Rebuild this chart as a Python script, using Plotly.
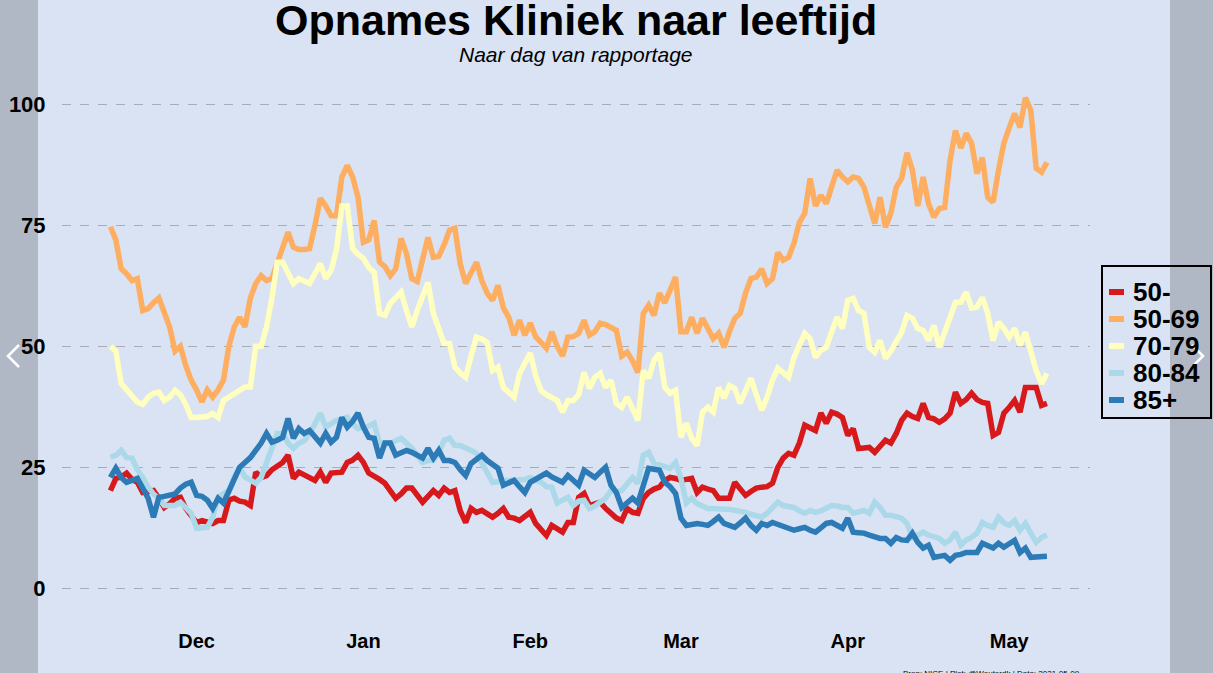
import pandas as pd
import plotly.graph_objects as go

# Daily clinic admissions per age group, 15 Nov 2020 – 8 May 2021
dates = pd.date_range("2020-11-15", periods=175, freq="D")

age_50_min = [
    20.2, 22.7, 23, 23.8, 22.5, 21.9, 19.8, 20, 20.2, 18.6,
    16.7, 17.5, 18.6, 18.8, 16.5, 15, 13.6, 14, 13.8, 13.4,
    14, 14, 18.2, 18.6, 18, 17.8, 17.1, 24, 22.9, 23.3,
    24.5, 25.4, 26, 27.5, 22.7, 24, 23.5, 22.9, 22.3, 24,
    21.9, 23.8, 24, 24, 26, 26.5, 27.5, 26, 23.8, 23.3,
    22.5, 21.7, 20, 18.6, 19.5, 20.7, 20.7, 19, 17.8, 19,
    20.2, 19.2, 20.7, 19.8, 20.2, 16, 13.6, 16.5, 15.7, 16.1,
    15.5, 14.7, 15.5, 16.5, 14.7, 14.5, 14, 15, 15.7, 13.4,
    12, 10.9, 13, 12.3, 11.6, 13.6, 13.6, 18.8, 19.6, 17.1,
    17.5, 17.8, 16.5, 15.5, 14.5, 14, 16.5, 15.7, 15.5, 18.6,
    19.8, 20.5, 20.9, 22.3, 22.9, 22.7, 22.3, 22.5, 22.7, 19.8,
    20.9, 20.5, 20.2, 18.6, 18.6, 18.6, 21.9, 20.5, 19.2, 20,
    20.7, 20.9, 21, 21.7, 25, 26.9, 27.9, 27.5, 30, 33.7,
    33, 32.6, 36.2, 34.1, 36.4, 36, 35.3, 31.6, 33, 28.9,
    29, 29.1, 28.1, 29.5, 30.6, 30, 32, 34.7, 36.2, 35.5,
    35.1, 38.2, 35.3, 35, 34.3, 35, 36.2, 40.5, 38.2, 39,
    40.3, 39, 38.4, 38.2, 31.6, 32.2, 36.2, 37.4, 38.8, 36.4,
    41.5, 41.5, 41.5, 37.8, 38.2,
]

age_50_69 = [
    74.7, 72, 66, 65, 63.6, 64, 57.4, 57.8, 59, 60,
    57, 54, 49, 50, 46, 43, 41, 38.5, 41, 39.5,
    41, 43, 50, 54, 56, 54, 60, 63, 64.6, 63.6,
    64, 67, 70, 73.6, 70.5, 70, 70, 70.2, 75, 80.6,
    79, 77, 77, 85, 87.4, 85, 80.8, 71.5, 72, 76,
    67.4, 66.5, 64.6, 66, 72.3, 69.2, 64, 63.4, 68, 72.5,
    68.4, 68.6, 71, 74, 74.4, 67, 63, 65, 67.4, 63.6,
    61, 59.5, 62.6, 58, 56, 52.3, 55.4, 52.3, 54.8, 52,
    50.6, 49.6, 53, 50, 48, 51.9, 52, 52.7, 55.4, 52.3,
    53, 54.8, 54.5, 54, 53.3, 48, 48.8, 47, 44.6, 56.8,
    58.5, 56.4, 61, 59, 61.5, 64.3, 53, 53, 56, 52.7,
    55.8, 53.5, 51.6, 52.7, 49.8, 53, 55.8, 56.8, 61, 64,
    64.3, 66, 63, 64, 69.4, 67.8, 68.4, 71.3, 75.6, 77.5,
    84.7, 79, 81.2, 79.5, 83, 86.4, 85, 84, 85, 84.7,
    82.9, 79, 75.4, 80.8, 74.6, 77.5, 82.9, 84.7, 90, 86.4,
    79, 85, 79.5, 76.7, 78.5, 78.7, 88.4, 94.6, 91, 94,
    92, 85.7, 89, 80.8, 79.8, 86.4, 92, 95.2, 98.1, 95.2,
    101.4, 98.8, 86.8, 86, 88,
]

age_70_79 = [
    50, 49, 42.3, 41, 40, 38.5, 38, 39.5, 40.3, 40.5,
    38.8, 39.5, 40.9, 40, 38, 35.3, 35.3, 35.3, 35.5, 36.1,
    35.3, 38.8, 39.5, 40, 41, 41.6, 41.6, 50, 50, 54,
    60, 67.4, 67.4, 65, 63, 64, 63.5, 63, 65, 67.1,
    64, 65.7, 70, 79, 79, 70.2, 69, 68.2, 66.3, 65.3,
    56.8, 56.4, 58.9, 60, 61.2, 57.4, 54, 57.4, 60, 63.2,
    56.8, 53.3, 50.6, 50.6, 45.7, 44.5, 43.6, 48, 51.9, 51.5,
    50.8, 45, 45.7, 41.5, 40.5, 39.5, 44.4, 46.5, 48.6, 44,
    40.9, 40, 39.5, 38.8, 36.4, 38.8, 38.8, 40, 44.6, 41.3,
    43.6, 44.4, 41.5, 43, 38.2, 37.4, 39.5, 37.4, 34.7, 45,
    43.4, 47.1, 48.6, 41.5, 40.3, 40.9, 31.2, 34.1, 31, 29.5,
    36.4, 37.4, 36.4, 41.5, 39.3, 41.9, 41.3, 38.2, 41, 43.4,
    40, 36.8, 39.5, 43, 45.5, 44.6, 43.6, 47.7, 50, 52.7,
    51.6, 47.7, 49.2, 49.8, 53, 56, 53.7, 59.5, 59.9, 57.4,
    56.8, 49.8, 48.8, 51.2, 47.5, 49, 51, 52.9, 56.4, 55.8,
    53.7, 53.3, 51.2, 54.3, 49.8, 52.7, 55.5, 59.1, 59.1, 61.2,
    57.9, 58.1, 60.1, 56.8, 51.2, 55, 53.7, 51.9, 53.7, 50.2,
    52.9, 49.2, 45, 42.3, 44.4,
]

age_80_84 = [
    27.1, 27.5, 28.5, 27, 26.9, 24.5, 22.9, 20.9, 19.5, 18.5,
    17.1, 17, 17.1, 17.8, 16.5, 15.5, 12.4, 12.5, 12.6, 14.7,
    18.8, 19.5, 20.2, 23, 25, 23, 22.3, 21.7, 22.9, 25.8,
    29, 32, 32, 30, 28.9, 30, 30.5, 32, 34, 36.2,
    33.3, 34, 34.7, 35, 35.3, 34, 33, 33.3, 33.5, 34.1,
    30, 30, 30, 30.5, 31, 30, 29, 27.5, 26, 26.4,
    26.4, 28.1, 30.6, 31, 29.5, 29.5, 29.1, 28.5, 27.9, 25.8,
    24, 21.9, 22, 22.3, 22.3, 22.3, 22.3, 22.5, 22.9, 22.5,
    21.9, 21, 20.9, 17.6, 18.2, 18.8, 17.1, 18, 18.2, 16.5,
    17, 17.8, 18.6, 20.2, 20, 20.2, 21.5, 22.9, 21.7, 27.5,
    28.1, 25.8, 25.5, 25, 24.8, 26, 22.7, 17.6, 18.6, 17.5,
    17.1, 16.5, 16.5, 16.5, 16.5, 16.3, 16.1, 16, 15.7, 15.3,
    15.1, 14.7, 15.5, 16.7, 17.8, 17.1, 17, 16.7, 16, 15.5,
    16.1, 15.7, 16, 16.5, 17.1, 17, 16.7, 16.7, 15.5, 15.8,
    16.1, 15.5, 17.8, 16.7, 15.1, 15.1, 14.8, 14.5, 13.4, 10.5,
    11, 11.6, 11, 10.5, 10.3, 9.3, 10, 11.6, 8.9, 10,
    10.5, 11.4, 13.6, 13, 12.6, 14.7, 13.5, 13, 14, 12,
    13.4, 11.4, 9.5, 10.5, 11,
]

age_85_plus = [
    22.9, 24.8, 22.9, 21.9, 22.3, 22.7, 20.7, 18.6, 14.7, 18.8,
    19, 19.2, 19.5, 20.7, 21.5, 21.9, 19.2, 19, 18.2, 16.5,
    18.6, 17.6, 20, 22.3, 25, 26, 27, 28.5, 30, 32,
    30.2, 30.6, 31.2, 35.1, 31, 33, 32, 32.6, 31.5, 30,
    32, 30.2, 31.2, 35.3, 33.3, 34.5, 36.2, 33.3, 31.2, 31,
    26.9, 30, 30, 27.5, 28, 28.5, 28.1, 27.5, 26.9, 28.9,
    26.9, 28.5, 26.4, 26.4, 26, 24.5, 23.3, 25.8, 26.5, 27.5,
    26.4, 25.5, 24.8, 21.3, 21.8, 22.3, 21, 19.8, 21.9, 22.5,
    23, 23.8, 23, 22.3, 21.9, 23.3, 22.3, 21.3, 24.4, 23.5,
    22.9, 24, 25, 21.3, 19.8, 16.7, 17.5, 18.6, 17.6, 21.7,
    24.8, 24.6, 24.4, 21.9, 21, 19.6, 14.5, 13, 13.2, 13.4,
    13.2, 13, 13.8, 14.7, 13.4, 13, 12.6, 13.5, 14.5, 13,
    12, 13.4, 13, 13.6, 13.2, 12.6, 12.5, 12, 12.3, 12.6,
    12, 11.6, 12.5, 13.4, 13.6, 13, 12.4, 14.5, 11.6, 11.5,
    11.4, 11, 10.5, 10.3, 10.3, 9.3, 10.5, 10, 9.9, 11.4,
    9.5, 8.3, 8.9, 6.4, 6.6, 6.8, 5.8, 6.8, 7, 7.4,
    7.4, 7.4, 9.3, 8.8, 8.3, 9.3, 8.5, 9.2, 9.9, 7.4,
    8.3, 6.4, 6.4, 6.4, 6.6,
]

series = [
    ("50-", age_50_min, "#d7191c"),
    ("50-69", age_50_69, "#fdae61"),
    ("70-79", age_70_79, "#ffffbf"),
    ("80-84", age_80_84, "#abd9e9"),
    ("85+", age_85_plus, "#2c7bb6"),
]

y_ticks = [0, 25, 50, 75, 100]

BG = "#dae3f3"
FONT = "Liberation Sans, Arial, sans-serif"

# plot area in pixels
L, R, T, B = 62, 1090, 56, 627


def px(x):
    return (x - L) / (R - L)


def py(y):
    return (B - y) / (B - T)


fig = go.Figure()
for name, values, color in series:
    assert len(values) == len(dates), name
    fig.add_trace(
        go.Scatter(
            x=dates,
            y=values,
            name=name,
            mode="lines",
            line=dict(color=color, width=5.5),
            showlegend=False,
        )
    )

annotations = [
    dict(
        text="<i>Naar dag van rapportage</i>",
        xref="paper", yref="paper", x=px(576), y=py(55),
        xanchor="center", yanchor="middle", showarrow=False,
        font=dict(size=21, family=FONT),
    ),
    dict(
        text="Bron: NICE | Plot: @Wouterdk | Data: 2021-05-09",
        xref="paper", yref="paper", x=px(991), y=py(673),
        xanchor="center", yanchor="middle", showarrow=False,
        font=dict(size=8, family=FONT),
    ),
]

shapes = [
    # legend box
    dict(type="rect", xref="paper", yref="paper", x0=px(1102), x1=px(1211),
         y0=py(418), y1=py(266), line=dict(color="black", width=2),
         fillcolor="rgba(0,0,0,0)", layer="above"),
]

# hand-made legend: short colour bar + bold label
legend_y = [292, 319, 346, 373, 400]
for (name, _, color), ly in zip(series, legend_y):
    shapes.append(
        dict(type="line", xref="paper", yref="paper", x0=px(1109), x1=px(1124),
             y0=py(ly), y1=py(ly), line=dict(color=color, width=6), layer="above")
    )
    annotations.append(
        dict(text=f"<b>{name}</b>", xref="paper", yref="paper", x=px(1131), y=py(ly),
             xanchor="left", yanchor="middle", showarrow=False,
             font=dict(size=26, family=FONT))
    )

shapes += [
    # grey carousel side bars
    dict(type="rect", xref="paper", yref="paper", x0=px(0), x1=px(38),
         y0=py(673), y1=py(0), fillcolor="rgba(0,0,0,0.19)", line=dict(width=0),
         layer="above"),
    dict(type="rect", xref="paper", yref="paper", x0=px(1170), x1=px(1213),
         y0=py(673), y1=py(0), fillcolor="rgba(0,0,0,0.19)", line=dict(width=0),
         layer="above"),
    # chevrons
    dict(type="path", xref="paper", yref="paper", layer="above",
         path=f"M {px(19)} {py(345)} L {px(8)} {py(356)} L {px(19)} {py(367)}",
         line=dict(color="white", width=2.5)),
    dict(type="path", xref="paper", yref="paper", layer="above",
         path=f"M {px(1192)} {py(345)} L {px(1203)} {py(356)} L {px(1192)} {py(367)}",
         line=dict(color="white", width=2.5)),
]

fig.update_layout(
    width=1213,
    height=673,
    margin=dict(l=L, r=1213 - R, t=T, b=673 - B),
    paper_bgcolor=BG,
    plot_bgcolor=BG,
    font=dict(family=FONT, color="black"),
    title=dict(
        text="<b>Opnames Kliniek naar leeftijd</b>",
        x=0.475,
        xanchor="center",
        y=0.971,
        yanchor="middle",
        font=dict(size=43, family=FONT),
    ),
    annotations=annotations,
    shapes=shapes,
    showlegend=False,
    xaxis=dict(
        range=["2020-11-06", "2021-05-16"],
        dtick="M1",
        tick0="2020-12-01",
        tickformat="<b>%b</b>",
        tickfont=dict(size=20, family=FONT),
        showgrid=False,
        zeroline=False,
        showline=False,
        ticks="",
        automargin=False,
    ),
    yaxis=dict(
        range=[-8, 110],
        tickvals=y_ticks,
        ticktext=[f"<b>{v}</b>" for v in y_ticks],
        tickfont=dict(size=22, family=FONT),
        showgrid=True,
        gridcolor="#a9acb5",
        griddash="dash",
        gridwidth=1,
        zeroline=False,
        showline=False,
        ticks="outside",
        ticklen=11,
        tickcolor="rgba(0,0,0,0)",
        automargin=False,
    ),
)

fig.write_html(
    "out.html",
    config={"displayModeBar": False},
    post_script="document.body.style.margin='0px';",
)
